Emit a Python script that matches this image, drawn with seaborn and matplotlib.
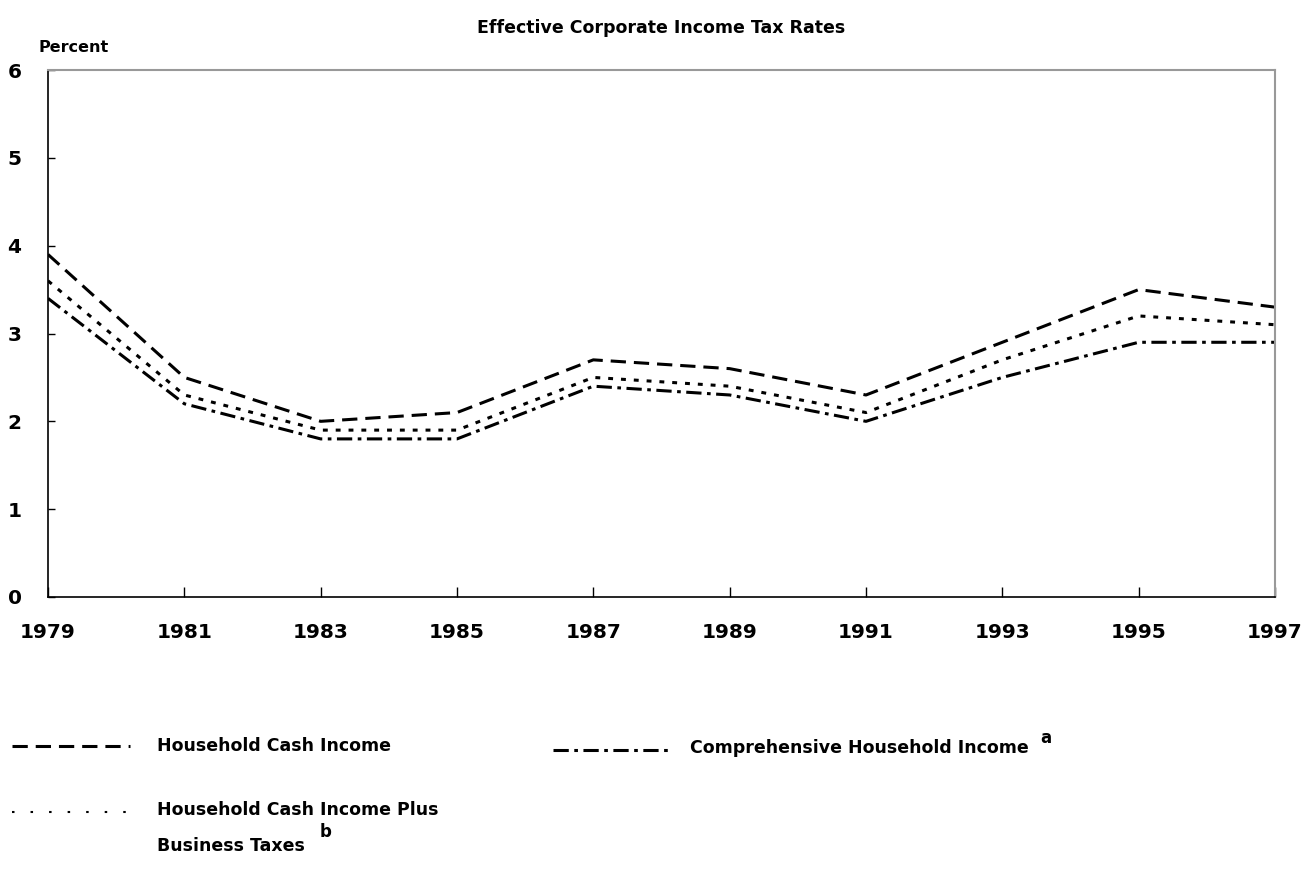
import matplotlib
matplotlib.use("Agg")
import matplotlib.pyplot as plt
import seaborn as sns
import pandas as pd
from matplotlib.lines import Line2D

years = [1979, 1981, 1983, 1985, 1987, 1989, 1991, 1993, 1995, 1997]
cash_income = [3.9, 2.5, 2.0, 2.1, 2.7, 2.6, 2.3, 2.9, 3.5, 3.3]
cash_plus_business = [3.6, 2.3, 1.9, 1.9, 2.5, 2.4, 2.1, 2.7, 3.2, 3.1]
comprehensive = [3.4, 2.2, 1.8, 1.8, 2.4, 2.3, 2.0, 2.5, 2.9, 2.9]
series_names = ["Household Cash Income",
                "Household Cash Income Plus Business Taxes",
                "Comprehensive Household Income"]
yticks = [0, 1, 2, 3, 4, 5, 6]

sns.set_theme(style="white")
plt.rcParams['font.family'] = ['DejaVu Sans']
plt.rcParams['font.weight'] = 'bold'
plt.rcParams['text.color'] = 'black'
plt.rcParams['xtick.color'] = 'black'
plt.rcParams['ytick.color'] = 'black'

rows = []
for name, vals in zip(series_names, [cash_income, cash_plus_business, comprehensive]):
    for y, v in zip(years, vals):
        rows.append({"year": y, "value": v, "series": name})
df = pd.DataFrame(rows)

dash_styles = {
    series_names[0]: (5, 2.6),
    series_names[1]: (1.6, 2.6),
    series_names[2]: (5, 1.8, 1.2, 1.8),
}

fig = plt.figure(figsize=(13.13, 8.84), dpi=100)
ax = fig.add_axes([48/1313, 1-597/884, (1275-48)/1313, (597-70)/884])
sns.lineplot(data=df, x="year", y="value", hue="series", style="series",
             palette=["black"]*3, dashes=dash_styles, linewidth=2.2,
             legend=False, ax=ax)

ax.set_xlim(1979, 1997)
ax.set_ylim(0, 6)
ax.set_xticks(years)
ax.set_xticklabels([str(y) for y in years], fontsize=14.5, fontweight='bold', color='black')
ax.set_yticks(yticks)
ax.set_yticklabels([str(t) for t in yticks], fontsize=14.5, fontweight='bold', color='black')
ax.set_xlabel("")
ax.set_ylabel("")
ax.tick_params(axis='x', direction='in', length=7, width=1, pad=19, bottom=True, colors='black')
ax.tick_params(axis='y', direction='in', length=5, width=1, pad=19, left=True, colors='black')
for s in ['left', 'bottom']:
    ax.spines[s].set_color('black')
    ax.spines[s].set_linewidth(1.2)
for s in ['top', 'right']:
    ax.spines[s].set_color('#999999')
    ax.spines[s].set_linewidth(1.5)
ax.grid(False)

fig.text(661/1313, 1-28/884, "Effective Corporate Income Tax Rates", ha='center', va='center',
         fontsize=12.5, fontweight='bold', color='black')
fig.text(39/1313, 1-47/884, "Percent", ha='left', va='center', fontsize=11.5, fontweight='bold', color='black')

# Legend (manual layout)
def key(x0, x1, y, dashes, lw=2.2):
    ln = Line2D([x0/1313, x1/1313], [1-y/884, 1-y/884], transform=fig.transFigure,
                color='black', linewidth=lw, dashes=dashes)
    fig.add_artist(ln)

key(12, 130, 746, dash_styles[series_names[0]])
fig.text(157/1313, 1-746/884, "Household Cash Income", ha='left', va='center', fontsize=12.5, fontweight='bold', color='black')
key(553, 670, 750, dash_styles[series_names[2]])
fig.text(690/1313, 1-748/884, "Comprehensive Household Income", ha='left', va='center', fontsize=12.5, fontweight='bold', color='black')
fig.text(1040/1313, 1-738/884, "a", ha='left', va='center', fontsize=12, fontweight='bold', color='black')
key(12, 128, 812, (1.2, 7.7), lw=1.5)
fig.text(157/1313, 1-810/884, "Household Cash Income Plus", ha='left', va='center', fontsize=12.5, fontweight='bold', color='black')
fig.text(157/1313, 1-846/884, "Business Taxes", ha='left', va='center', fontsize=12.5, fontweight='bold', color='black')
fig.text(320/1313, 1-832/884, "b", ha='left', va='center', fontsize=12, fontweight='bold', color='black')

fig.savefig("out.png", dpi=100)
